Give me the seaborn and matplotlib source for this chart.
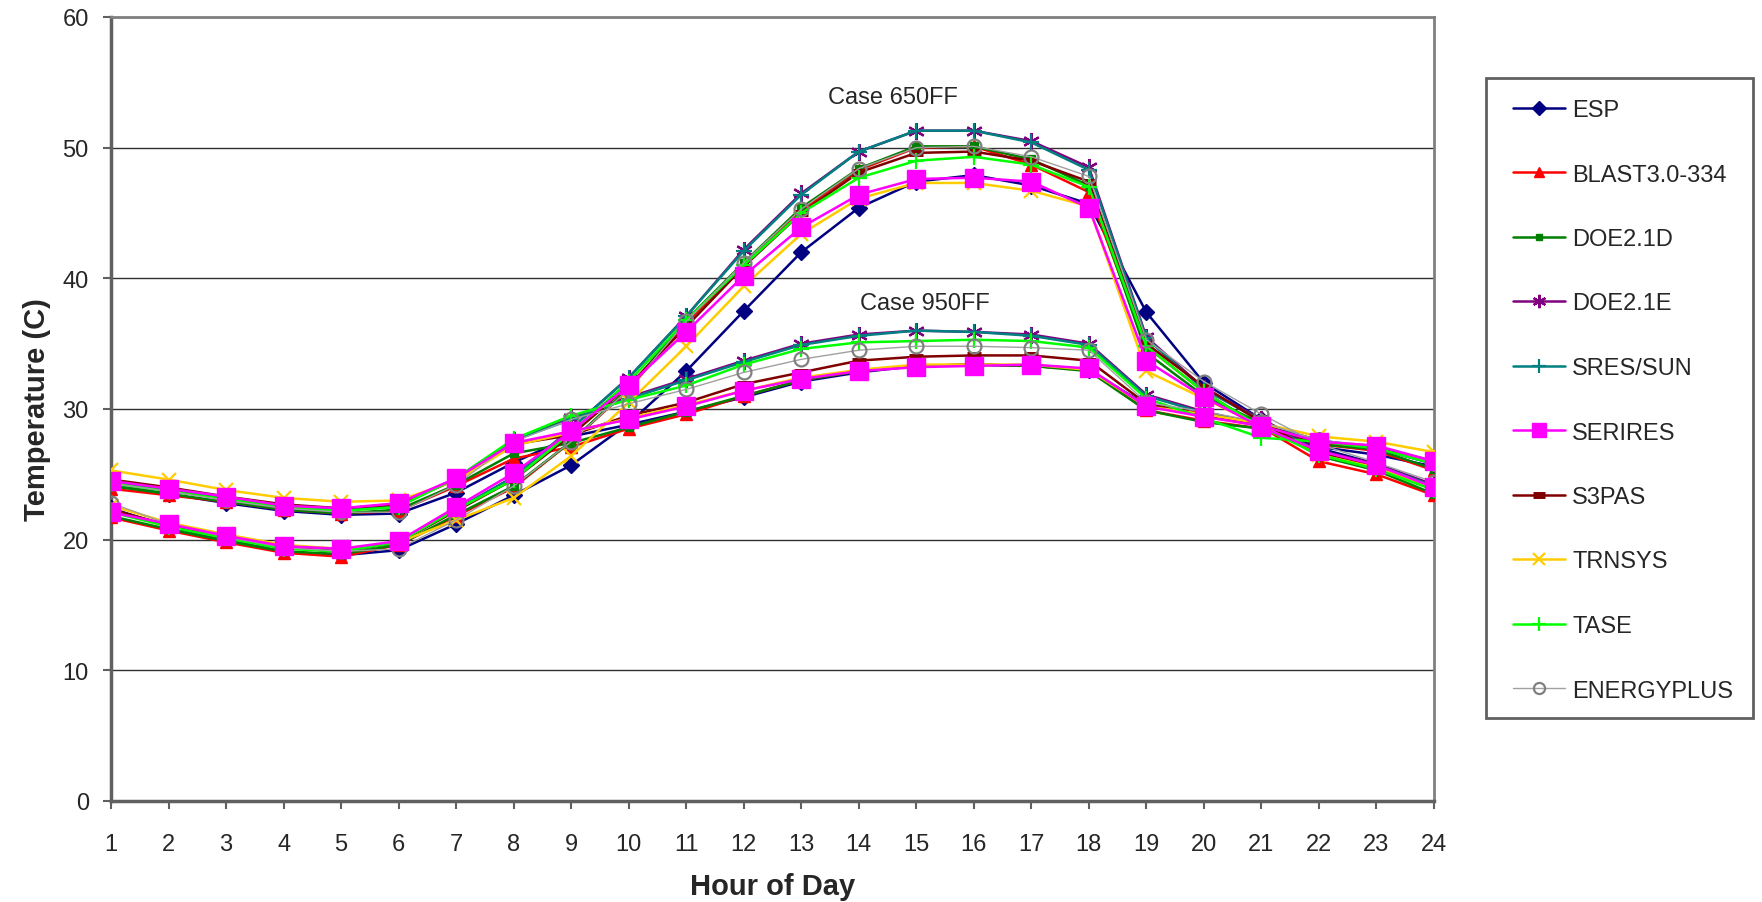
import numpy as np
import pandas as pd
import matplotlib
matplotlib.use("Agg")
import matplotlib.pyplot as plt
from matplotlib.patches import Rectangle
import seaborn as sns

# Hours and program names
hours = list(range(1, 25))
programs = ["ESP", "BLAST3.0-334", "DOE2.1D", "DOE2.1E", "SRES/SUN",
            "SERIRES", "S3PAS", "TRNSYS", "TASE", "ENERGYPLUS"]

# Case 650FF hourly temperatures (C)
esp_650 = [22.4, 21.0, 20.0, 19.1, 18.8, 19.2, 21.2, 23.4, 25.7, 28.9, 32.9, 37.5,
           42.0, 45.4, 47.4, 47.9, 47.1, 45.7, 37.4, 32.0, 29.2, 27.0, 25.8, 24.0]
blast_650 = [21.7, 20.7, 19.8, 19.0, 18.7, 19.6, 21.8, 24.0, 27.5, 31.5, 36.6, 41.0,
             45.2, 48.3, 50.0, 50.1, 48.7, 46.6, 34.8, 31.3, 28.6, 26.0, 25.0, 23.4]
doe21d_650 = [21.8, 20.8, 19.9, 19.1, 18.9, 19.6, 21.9, 24.1, 27.5, 31.6, 36.8, 41.2,
              45.4, 48.4, 50.1, 50.1, 49.1, 47.1, 34.3, 31.0, 28.9, 26.4, 25.3, 23.5]
doe21e_650 = [22.3, 21.1, 20.2, 19.4, 19.1, 19.8, 22.3, 24.8, 28.5, 32.4, 37.1, 42.2,
              46.5, 49.7, 51.3, 51.3, 50.5, 48.5, 35.5, 31.6, 29.2, 26.8, 25.8, 24.2]
sres_650 = [22.2, 21.1, 20.2, 19.4, 19.1, 19.8, 22.3, 24.8, 28.5, 32.4, 37.1, 42.1,
            46.4, 49.7, 51.3, 51.3, 50.4, 48.3, 35.4, 31.5, 29.1, 26.7, 25.7, 24.1]
serires_650 = [22.1, 21.2, 20.3, 19.5, 19.3, 19.9, 22.5, 25.1, 28.3, 31.8, 35.9, 40.2,
               43.9, 46.4, 47.6, 47.7, 47.4, 45.4, 33.7, 30.9, 28.6, 26.8, 25.7, 24.0]
s3pas_650 = [22.3, 21.1, 20.2, 19.4, 19.1, 19.8, 22.2, 24.6, 28.0, 31.8, 36.3, 40.9,
             45.0, 48.1, 49.6, 49.7, 49.0, 47.4, 35.0, 31.7, 29.0, 26.6, 25.6, 24.0]
trnsys_650 = [22.6, 21.3, 20.4, 19.6, 19.3, 19.8, 21.5, 23.2, 26.4, 30.5, 34.8, 39.4,
              43.4, 46.1, 47.3, 47.3, 46.7, 45.5, 32.9, 30.8, 28.7, 26.5, 25.5, 24.0]
tase_650 = [22.1, 21.0, 20.1, 19.3, 19.1, 19.8, 22.3, 24.6, 28.2, 32.1, 36.8, 41.0,
            45.0, 47.7, 49.0, 49.3, 48.7, 47.0, 34.8, 31.3, 28.6, 26.5, 25.4, 23.8]
eplus_650 = [22.8, 21.2, 20.2, 19.4, 19.1, 19.3, 21.5, 24.1, 27.5, 31.5, 36.7, 41.2,
             45.3, 48.4, 50.0, 50.1, 49.3, 47.8, 35.3, 32.1, 29.6, 27.3, 25.9, 24.4]

# Case 950FF hourly temperatures (C)
esp_950 = [24.3, 23.5, 22.8, 22.2, 21.9, 22.0, 23.6, 25.9, 27.9, 28.8, 29.8, 30.9,
           32.1, 32.8, 33.3, 33.4, 33.3, 33.0, 30.3, 29.5, 28.7, 27.1, 26.5, 25.6]
blast_950 = [23.9, 23.4, 22.9, 22.3, 22.0, 22.2, 24.1, 26.2, 27.1, 28.5, 29.6, 31.0,
             32.2, 32.9, 33.3, 33.4, 33.3, 33.0, 29.9, 29.1, 28.5, 27.3, 26.8, 25.3]
doe21d_950 = [24.1, 23.5, 22.9, 22.3, 22.0, 22.3, 24.2, 26.6, 27.4, 28.6, 29.8, 31.0,
              32.2, 32.9, 33.3, 33.4, 33.3, 32.9, 29.9, 29.0, 28.5, 27.3, 26.9, 25.4]
doe21e_950 = [24.5, 23.8, 23.2, 22.6, 22.3, 22.6, 24.7, 27.6, 29.3, 30.9, 32.3, 33.7,
              35.0, 35.7, 36.0, 35.9, 35.7, 35.0, 31.1, 29.8, 28.8, 27.6, 27.0, 25.8]
sres_950 = [24.5, 23.8, 23.2, 22.6, 22.3, 22.6, 24.7, 27.6, 29.2, 30.8, 32.2, 33.6,
            34.9, 35.6, 36.0, 35.9, 35.6, 34.9, 31.0, 29.7, 28.8, 27.6, 27.0, 25.8]
serires_950 = [24.5, 23.9, 23.3, 22.6, 22.4, 22.8, 24.7, 27.4, 28.3, 29.2, 30.2, 31.4,
               32.3, 32.9, 33.2, 33.3, 33.4, 33.1, 30.2, 29.4, 28.7, 27.5, 27.2, 26.0]
s3pas_950 = [24.6, 24.0, 23.3, 22.7, 22.4, 22.7, 24.6, 27.3, 28.0, 29.5, 30.5, 31.9,
             32.8, 33.7, 34.0, 34.1, 34.1, 33.7, 30.4, 29.6, 28.8, 27.4, 27.1, 26.0]
trnsys_950 = [25.3, 24.6, 23.8, 23.2, 22.9, 23.0, 24.5, 27.2, 28.2, 29.3, 30.3, 31.4,
              32.4, 33.0, 33.4, 33.4, 33.4, 33.0, 30.2, 29.6, 28.9, 27.9, 27.5, 26.7]
tase_950 = [24.3, 23.7, 23.1, 22.5, 22.2, 22.5, 24.7, 27.7, 29.5, 30.7, 31.8, 33.4,
            34.6, 35.1, 35.2, 35.3, 35.2, 34.7, 30.8, 29.3, 27.8, 27.5, 27.0, 25.8]
eplus_950 = [24.3, 23.7, 23.0, 22.4, 22.1, 22.1, 24.2, 27.5, 29.2, 30.4, 31.5, 32.8,
             33.8, 34.5, 34.8, 34.8, 34.7, 34.5, 30.5, 29.8, 29.0, 27.6, 27.2, 25.9]

case_650 = [esp_650, blast_650, doe21d_650, doe21e_650, sres_650,
            serires_650, s3pas_650, trnsys_650, tase_650, eplus_650]
case_950 = [esp_950, blast_950, doe21d_950, doe21e_950, sres_950,
            serires_950, s3pas_950, trnsys_950, tase_950, eplus_950]

# estilo de cada programa (color, marcador)
styles = {
    "ESP":          dict(color="#000080", marker="D", ms=8.5, mfc="#000080", mew=1, lw=1.8),
    "BLAST3.0-334": dict(color="#FF0000", marker="^", ms=9, mfc="#FF0000", mew=1, lw=1.8),
    "DOE2.1D":      dict(color="#008000", marker="s", ms=5.5, mfc="#008000", mew=1, lw=1.8),
    "DOE2.1E":      dict(color="#800080", marker=(6, 2, 0), ms=12, mfc="none", mew=1.6, lw=1.8),
    "SRES/SUN":     dict(color="#008080", marker="+", ms=12, mfc="none", mew=1.6, lw=1.8),
    "SERIRES":      dict(color="#FF00FF", marker="s", ms=12.5, mfc="#FF00FF", mew=1, lw=1.8),
    "S3PAS":        dict(color="#800000", marker="_", ms=10, mfc="#800000", mew=5, lw=1.8),
    "TRNSYS":       dict(color="#FFCC00", marker="x", ms=10, mfc="none", mew=1.6, lw=1.8),
    "TASE":         dict(color="#00FF00", marker="+", ms=12, mfc="none", mew=1.6, lw=1.8),
    "ENERGYPLUS":   dict(color="#A0A0A0", marker="o", ms=10, mfc="none", mew=1.6, lw=1.0),
}

sns.set_style("white")
plt.rcParams["font.family"] = ["Liberation Sans", "DejaVu Sans"]

fig = plt.figure(figsize=(17.62, 9.03), dpi=100)
ax = fig.add_axes([111 / 1762, 1 - 802 / 903, (1434 - 111) / 1762, (802 - 18) / 903])

handles = []
for i, name in enumerate(programs):
    st = styles[name]
    mec = "#808080" if name == "ENERGYPLUS" else st["color"]
    z = 5 if name == "SERIRES" else 3
    for k, series in enumerate([case_650[i], case_950[i]]):
        sns.lineplot(x=hours, y=series, ax=ax, color=st["color"], lw=st["lw"],
                     marker=st["marker"], markersize=st["ms"], markerfacecolor=st["mfc"],
                     markeredgecolor=mec, markeredgewidth=st["mew"],
                     estimator=None, sort=False, zorder=z,
                     label=name if k == 0 else None, legend=False)
    handles.append(plt.Line2D([], [], color=st["color"], lw=st["lw"], marker=st["marker"],
                              markersize=st["ms"] * 0.8, markerfacecolor=st["mfc"],
                              markeredgecolor=mec, markeredgewidth=st["mew"]))

ax.set_xlim(1, 24)
ax.set_ylim(0, 60)
ax.set_xticks(hours)
ax.set_yticks(range(0, 61, 10))
ax.yaxis.grid(True, color="#303030", lw=1.0)
ax.set_axisbelow(True)
for side in ["left", "bottom"]:
    ax.spines[side].set_color("#606060")
    ax.spines[side].set_linewidth(2.5)
for side in ["top", "right"]:
    ax.spines[side].set_color("#808080")
    ax.spines[side].set_linewidth(2.0)
ax.tick_params(axis="both", direction="out", length=6, width=1.5, color="#606060",
               labelsize=17, bottom=True, left=True)
ax.tick_params(axis="y", pad=10)
ax.tick_params(axis="x", pad=17)

ax.set_xlabel("Hour of Day", fontsize=21, fontweight="bold", labelpad=12)
ax.set_ylabel("Temperature (C)", fontsize=21, fontweight="bold", labelpad=8)

ax.text(14.6, 53.9, "Case 650FF", fontsize=17, ha="center", va="center")
ax.text(15.15, 38.1, "Case 950FF", fontsize=17, ha="center", va="center")

# leyenda con marco propio
fig.patches.append(Rectangle((1486 / 1762, 1 - 719 / 903), (1753 - 1486) / 1762,
                             (719 - 79) / 903, transform=fig.transFigure,
                             fill=False, edgecolor="#606060", lw=2))
fig.legend(handles, programs, loc="upper left",
           bbox_to_anchor=(1513 / 1762, 1 - 100 / 903), frameon=False,
           fontsize=17, handlelength=2.2, handletextpad=0.3, borderpad=0,
           borderaxespad=0, labelspacing=1.8)

plt.savefig("out.png", dpi=100)
